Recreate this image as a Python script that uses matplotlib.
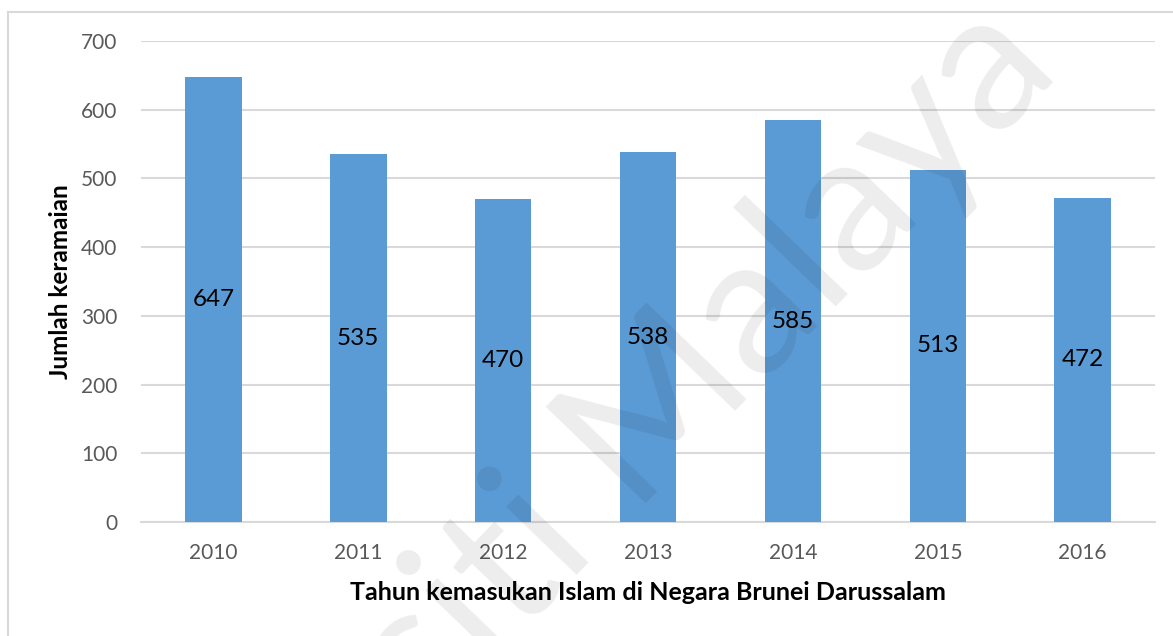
import numpy as np
import matplotlib.pyplot as plt
from matplotlib.lines import Line2D

# data
years = ["2010", "2011", "2012", "2013", "2014", "2015", "2016"]
jumlah = [647, 535, 470, 538, 585, 513, 472]
y_ticks = [0, 100, 200, 300, 400, 500, 600, 700]

plt.rcParams['font.family'] = ['Lato', 'DejaVu Sans']

fig = plt.figure(figsize=(11.73, 6.36), dpi=100)
ax = fig.add_axes([0.1202, 0.1792, 0.8645, 0.7563])

x = np.arange(len(years))
bars = ax.bar(x, jumlah, width=0.39, color="#5b9bd5", zorder=3)

# value labels in the middle of each bar
for xi, v in zip(x, jumlah):
    ax.text(xi, v / 2, str(v), ha="center", va="center", fontsize=17.5, color="black", zorder=4)

ax.set_xlim(-0.5, len(years) - 0.5)
ax.set_ylim(0, 700)
ax.set_yticks(y_ticks)
ax.set_xticks(x)
ax.set_xticklabels(years)
ax.tick_params(axis="both", length=0, labelsize=15, labelcolor="#595959")
ax.tick_params(axis="x", pad=15)
ax.tick_params(axis="y", pad=17)
ax.grid(axis="y", color="#d9d9d9", linewidth=1.5, zorder=0)
for s in ["top", "right", "left"]:
    ax.spines[s].set_visible(False)
ax.spines["bottom"].set_color("#d9d9d9")
ax.spines["bottom"].set_linewidth(1.5)

# axis titles
fig.text(0.552, 1 - 592 / 636, "Tahun kemasukan Islam di Negara Brunei Darussalam",
         ha="center", va="center", fontsize=18, fontweight="bold")
fig.text(61 / 1173, 1 - 282 / 636, "Jumlah keramaian", rotation=90,
         ha="center", va="center", fontsize=17.5, fontweight="bold")

# chart frame
fig.add_artist(Line2D([0.0068, 0.0068], [0, 0.981], color="#d9d9d9", lw=1.5, transform=fig.transFigure))
fig.add_artist(Line2D([0.0068, 1], [0.981, 0.981], color="#d9d9d9", lw=1.5, transform=fig.transFigure))

# watermark
fig.text(1062 / 1173, 1 - 72 / 636, "Universiti Malaya", rotation=46, rotation_mode="anchor",
         ha="right", va="baseline", fontsize=140, color="black", alpha=0.075, zorder=10)

plt.savefig("out.png", dpi=100)
